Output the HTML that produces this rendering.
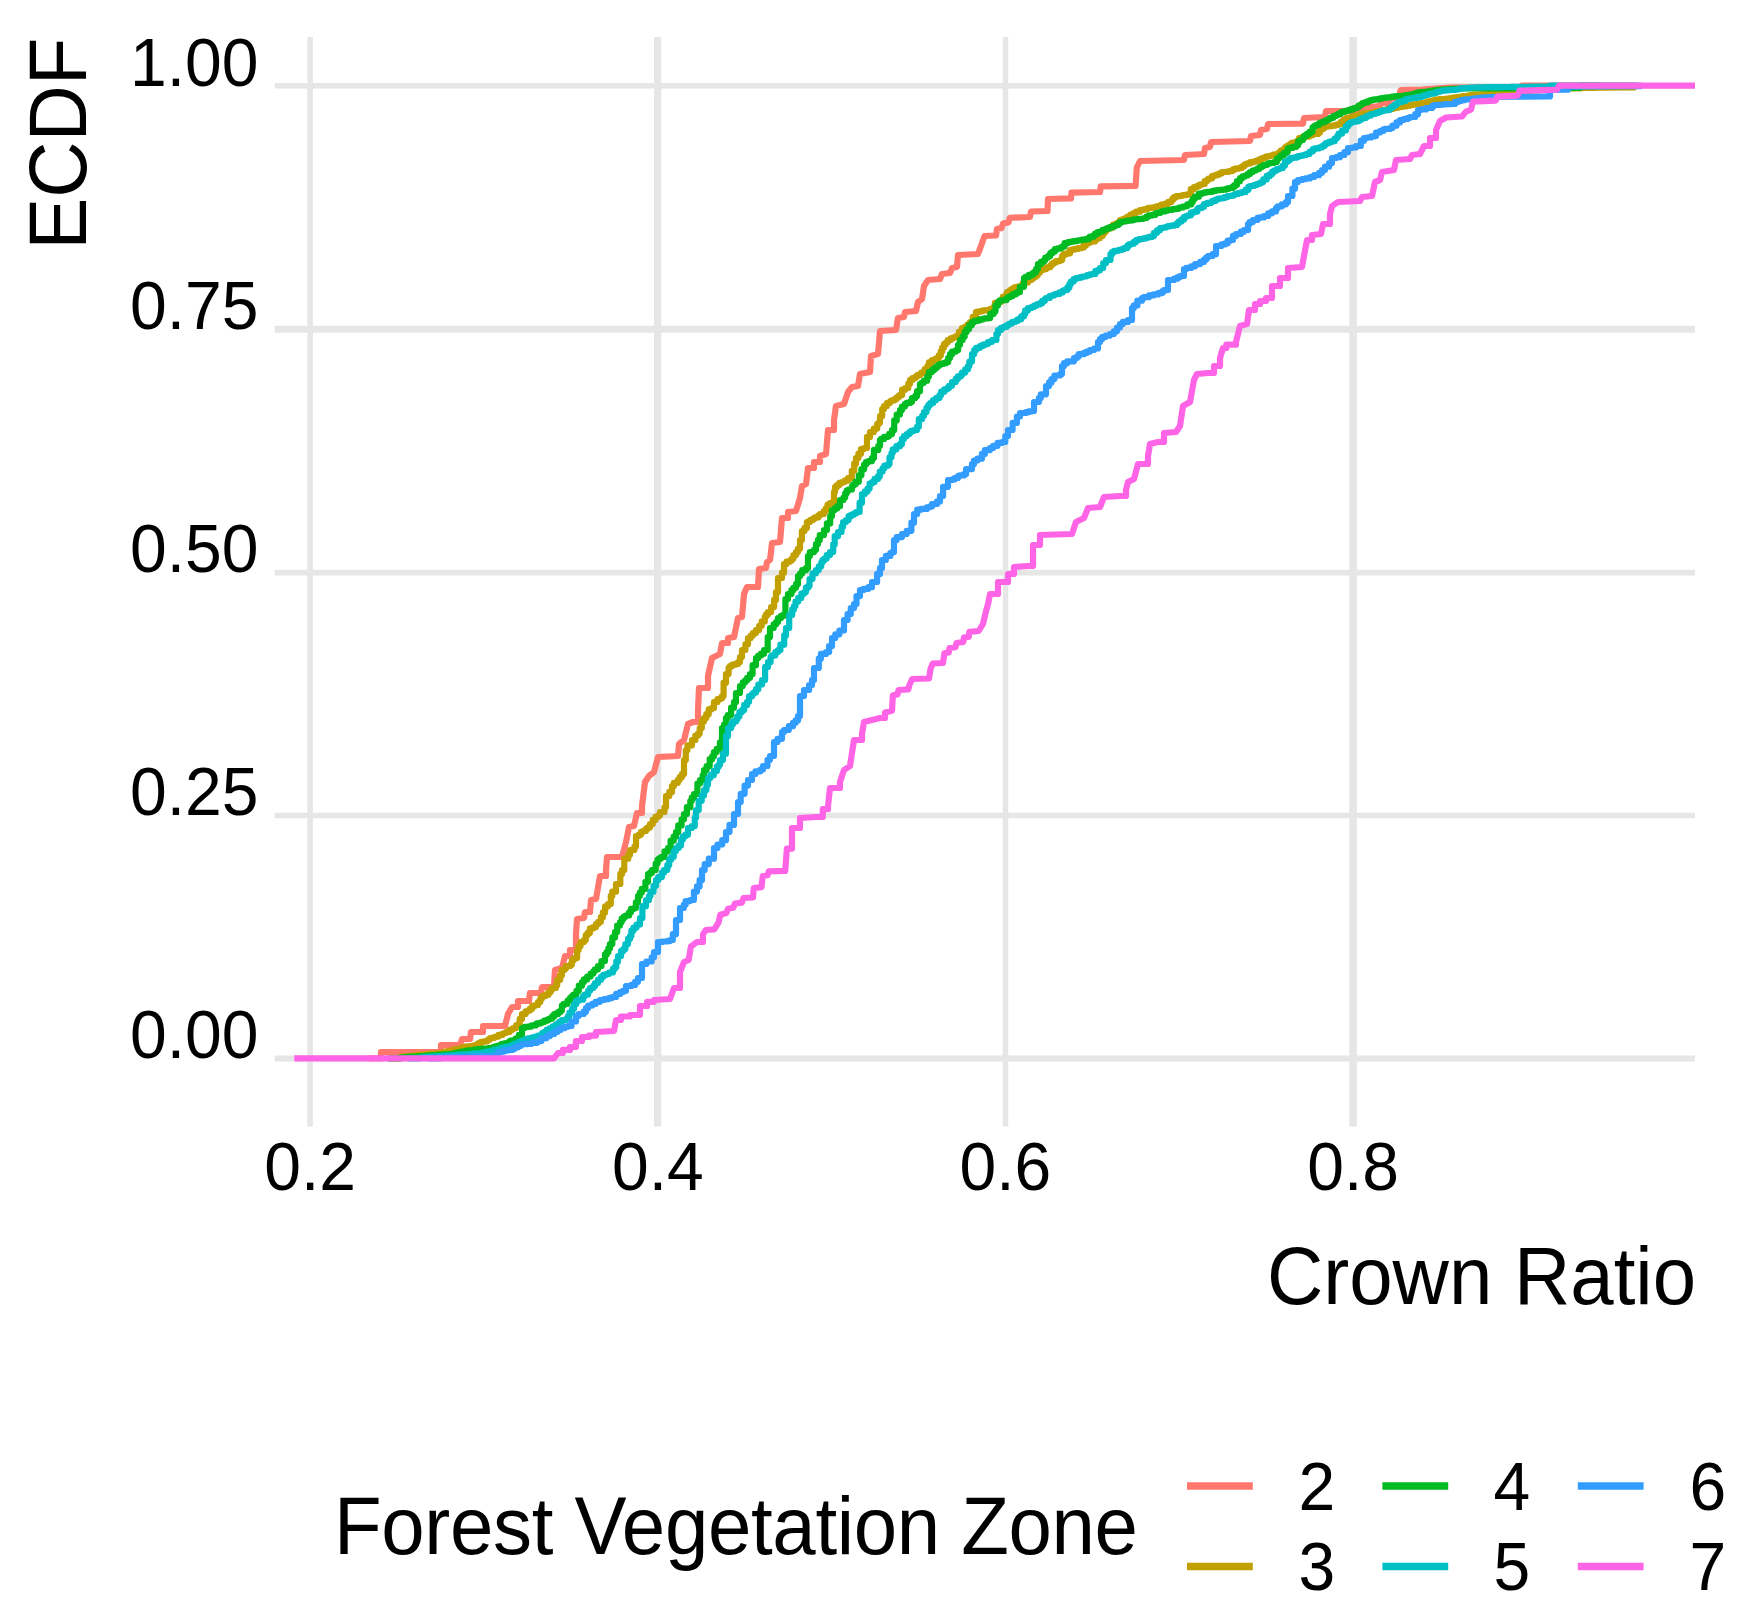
<!DOCTYPE html>
<html><head><meta charset="utf-8"><title>ECDF of Crown Ratio by Forest Vegetation Zone</title>
<style>html,body{margin:0;padding:0;background:#fff}svg{display:block}text{font-family:"Liberation Sans",Arial,Helvetica,sans-serif;fill:#000}</style></head><body>
<svg width="1748" height="1621" viewBox="0 0 1748 1621">
<rect width="1748" height="1621" fill="#fff"/>
<g stroke="#E6E6E6" stroke-width="5.6" fill="none">
<line x1="274.6" x2="1695.0" y1="85.7" y2="85.7" stroke-width="5.4"/>
<line x1="274.6" x2="1695.0" y1="329.3" y2="329.3" stroke-width="7.0"/>
<line x1="274.6" x2="1695.0" y1="572.6" y2="572.6" stroke-width="5.7"/>
<line x1="274.6" x2="1695.0" y1="815.6" y2="815.6" stroke-width="5.5"/>
<line x1="274.6" x2="1695.0" y1="1058.4" y2="1058.4" stroke-width="6.0"/>
<line x1="310.1" x2="310.1" y1="37.0" y2="1126.4" stroke-width="5.6"/>
<line x1="657.6" x2="657.6" y1="37.0" y2="1126.4" stroke-width="7.2"/>
<line x1="1005.5" x2="1005.5" y1="37.0" y2="1126.4" stroke-width="5.4"/>
<line x1="1353.1" x2="1353.1" y1="37.0" y2="1126.4" stroke-width="7.6"/>
</g>
<g fill="none" stroke-width="6.2" stroke-linejoin="round" stroke-linecap="butt">
<path stroke="#FF776D" d="M369.0 1058.4 L381.0 1058.4 L381.0 1058.0 L381.0 1052.0 L441.0 1052.0 L441.0 1045.0 L460.0 1045.0 L462.0 1039.0 L470.0 1039.0 L471.0 1032.0 L483.0 1032.0 L483.0 1026.0 L505.0 1026.0 L508.0 1014.0 L512.0 1007.0 L518.0 1007.0 L518.0 1001.0 L529.0 1001.0 L530.0 993.0 L541.0 993.0 L542.0 987.0 L554.0 987.0 L555.0 970.0 L562.0 968.0 L565.0 956.0 L570.0 956.0 L570.0 950.0 L576.0 950.0 L576.0 934.0 L577.0 919.0 L584.0 918.0 L585.0 912.0 L590.0 912.0 L591.0 900.0 L596.0 899.0 L600.0 876.0 L606.0 876.0 L606.0 870.0 L607.0 857.0 L622.0 857.0 L626.0 842.0 L629.0 827.0 L634.0 826.0 L637.0 813.0 L642.0 813.0 L642.0 806.0 L645.0 782.0 L649.0 776.0 L654.0 772.0 L658.0 757.0 L678.0 756.0 L679.0 744.0 L684.0 740.0 L688.0 724.0 L693.0 722.0 L698.0 722.0 L698.0 710.0 L699.0 688.0 L708.0 688.0 L708.0 676.0 L712.0 658.0 L720.0 654.0 L722.0 643.0 L728.0 643.0 L728.0 638.0 L734.0 637.0 L738.0 618.0 L742.0 617.0 L744.0 594.0 L747.0 587.0 L758.0 587.0 L759.0 569.0 L766.0 568.0 L767.0 562.0 L770.0 560.0 L772.0 543.0 L780.0 542.0 L782.0 518.0 L788.0 518.0 L788.0 512.0 L796.0 511.0 L800.0 498.0 L802.0 486.0 L806.0 484.0 L808.0 468.0 L814.0 468.0 L814.0 462.0 L820.0 462.0 L820.0 456.0 L826.0 454.0 L828.0 430.0 L834.0 430.0 L834.0 420.0 L836.0 406.0 L844.0 404.0 L848.0 392.0 L852.0 387.0 L858.0 386.0 L860.0 374.0 L870.0 372.0 L871.0 356.0 L878.0 354.0 L880.0 331.0 L896.0 330.0 L898.0 318.0 L904.0 317.0 L905.0 312.0 L916.0 311.0 L918.0 302.0 L922.0 299.0 L924.0 286.0 L928.0 280.0 L940.0 279.0 L942.0 274.0 L950.0 273.0 L952.0 268.0 L957.0 267.0 L958.0 255.0 L978.0 254.0 L980.0 248.7 L984.6 236.0 L996.0 235.5 L997.0 229.0 L1001.7 228.0 L1003.0 223.5 L1008.6 222.4 L1009.7 217.8 L1030.0 217.0 L1031.0 211.5 L1047.5 211.0 L1048.0 199.0 L1071.0 198.4 L1071.5 192.6 L1100.0 192.0 L1100.7 186.3 L1135.6 185.8 L1136.8 167.5 L1140.0 161.0 L1184.0 160.0 L1185.0 155.0 L1204.0 154.0 L1205.0 148.0 L1210.0 147.0 L1211.0 142.0 L1250.0 141.0 L1251.0 136.0 L1260.0 135.0 L1261.0 130.0 L1267.0 129.0 L1268.0 124.0 L1303.0 123.6 L1304.0 118.0 L1325.0 117.0 L1326.0 111.0 L1358.0 111.0 L1370.0 107.0 L1380.0 106.0 L1381.0 103.0 L1390.0 103.0 L1390.0 98.0 L1400.0 98.0 L1400.0 92.0 L1401.0 90.0 L1422.0 89.6 L1450.0 87.5 L1522.0 87.0 L1522.0 85.7 L1600.0 85.7"/>
<path stroke="#C1A000" d="M388.0 1058.4 L400.0 1058.4 L400.0 1057.0 L401.1 1057.0 L401.1 1056.6 L404.6 1056.6 L404.6 1056.5 L407.9 1056.5 L407.9 1056.1 L411.0 1056.1 L411.0 1055.8 L412.5 1055.8 L412.5 1055.7 L413.9 1055.7 L413.9 1055.4 L416.0 1055.4 L416.0 1055.1 L419.4 1055.1 L419.4 1054.7 L421.9 1054.7 L421.9 1054.6 L424.9 1054.6 L424.9 1054.5 L426.6 1054.5 L426.6 1054.1 L429.0 1054.1 L429.0 1053.7 L431.9 1053.7 L431.9 1053.6 L435.2 1053.6 L435.2 1053.4 L438.3 1053.4 L438.3 1053.1 L440.0 1053.1 L440.0 1053.0 L441.9 1053.0 L441.9 1052.8 L443.0 1052.8 L443.0 1052.0 L445.9 1052.0 L445.9 1051.6 L447.1 1051.6 L447.1 1050.8 L450.7 1050.8 L450.7 1050.3 L454.0 1050.3 L454.0 1049.3 L457.1 1049.3 L457.1 1048.9 L460.1 1048.9 L460.1 1048.1 L462.0 1048.1 L462.0 1047.3 L464.8 1047.3 L464.8 1046.6 L467.7 1046.6 L467.7 1046.3 L470.0 1046.3 L470.0 1046.0 L474.6 1046.0 L474.6 1045.0 L476.7 1045.0 L476.7 1044.4 L478.6 1044.4 L478.6 1043.2 L481.0 1043.2 L481.0 1041.8 L484.1 1041.8 L484.1 1041.4 L487.2 1041.4 L487.2 1040.3 L488.6 1040.3 L488.6 1039.4 L490.0 1039.4 L490.0 1038.0 L494.1 1038.0 L494.1 1037.0 L496.6 1037.0 L496.6 1036.4 L498.6 1036.4 L498.6 1034.9 L502.5 1034.9 L502.5 1033.8 L503.8 1033.8 L503.8 1033.0 L506.0 1033.0 L506.0 1032.0 L509.5 1032.0 L509.5 1029.9 L511.8 1029.9 L511.8 1028.9 L513.3 1028.9 L513.3 1028.1 L516.1 1028.1 L516.1 1025.3 L518.0 1025.3 L518.0 1024.0 L519.7 1024.0 L519.7 1018.9 L522.0 1018.9 L522.0 1014.0 L525.6 1014.0 L525.6 1011.4 L527.6 1011.4 L527.6 1010.5 L530.0 1010.5 L530.0 1008.7 L532.3 1008.7 L532.3 1005.8 L535.1 1005.8 L535.1 1005.0 L538.0 1005.0 L538.0 1002.0 L540.3 1002.0 L540.3 998.5 L542.0 998.5 L542.0 996.0 L545.6 996.0 L545.6 994.7 L548.5 994.7 L548.5 992.0 L550.6 992.0 L550.6 990.0 L552.0 990.0 L552.0 988.0 L555.9 988.0 L555.9 985.2 L557.2 985.2 L557.2 979.8 L560.2 979.8 L560.2 975.2 L561.9 975.2 L561.9 969.9 L564.3 969.9 L564.3 968.5 L566.0 968.5 L566.0 966.0 L570.3 966.0 L570.3 964.7 L571.9 964.7 L571.9 960.0 L574.0 960.0 L574.0 958.0 L577.1 958.0 L577.1 950.3 L578.6 950.3 L578.6 946.0 L580.6 946.0 L580.6 942.0 L584.0 942.0 L584.0 940.0 L585.8 940.0 L585.8 935.0 L587.7 935.0 L587.7 932.9 L589.9 932.9 L589.9 928.4 L593.3 928.4 L593.3 927.1 L596.0 927.1 L596.0 924.0 L598.3 924.0 L598.3 921.8 L600.9 921.8 L600.9 917.2 L602.9 917.2 L602.9 912.4 L605.1 912.4 L605.1 906.3 L608.0 906.3 L608.0 904.0 L610.8 904.0 L610.8 895.9 L612.3 895.9 L612.3 891.7 L616.0 891.7 L616.0 884.0 L620.3 884.0 L620.3 873.9 L622.0 873.9 L622.0 870.0 L624.3 870.0 L624.3 858.7 L628.3 858.7 L628.3 854.7 L630.0 854.7 L630.0 850.0 L634.4 850.0 L634.4 846.5 L636.0 846.5 L636.0 836.0 L638.6 836.0 L638.6 834.8 L640.9 834.8 L640.9 832.0 L642.7 832.0 L642.7 831.0 L646.0 831.0 L646.0 828.7 L647.7 828.7 L647.7 827.4 L650.0 827.4 L650.0 824.0 L652.8 824.0 L652.8 819.9 L655.5 819.9 L655.5 816.8 L658.1 816.8 L658.1 815.4 L660.0 815.4 L660.0 812.0 L664.5 812.0 L664.5 807.3 L666.0 807.3 L666.0 796.0 L669.3 796.0 L669.3 791.9 L672.0 791.9 L672.0 786.0 L673.9 786.0 L673.9 782.8 L677.9 782.8 L677.9 779.8 L679.7 779.8 L679.7 777.0 L682.0 777.0 L682.0 774.0 L684.0 774.0 L684.0 760.0 L685.8 760.0 L685.8 750.3 L687.4 750.3 L687.4 745.3 L692.0 745.3 L692.0 740.0 L695.4 740.0 L695.4 735.6 L698.1 735.6 L698.1 733.4 L699.7 733.4 L699.7 728.1 L701.8 728.1 L701.8 721.4 L704.0 721.4 L704.0 718.0 L706.3 718.0 L706.3 714.2 L708.7 714.2 L708.7 709.3 L711.6 709.3 L711.6 708.0 L714.0 708.0 L714.0 702.0 L717.5 702.0 L717.5 699.0 L720.4 699.0 L720.4 698.2 L722.0 698.2 L722.0 696.0 L723.6 696.0 L723.6 682.7 L726.0 682.7 L726.0 674.0 L728.6 674.0 L728.6 667.8 L730.0 667.8 L730.0 666.0 L732.3 666.0 L732.3 664.7 L735.2 664.7 L735.2 663.9 L738.0 663.9 L738.0 662.0 L740.0 662.0 L740.0 657.1 L742.0 657.1 L742.0 650.0 L745.4 650.0 L745.4 644.3 L748.0 644.3 L748.0 638.0 L750.7 638.0 L750.7 635.6 L752.9 635.6 L752.9 633.0 L756.0 633.0 L756.0 630.0 L759.2 630.0 L759.2 625.8 L761.7 625.8 L761.7 621.4 L764.8 621.4 L764.8 616.6 L766.1 616.6 L766.1 614.4 L768.0 614.4 L768.0 612.0 L771.1 612.0 L771.1 607.0 L774.1 607.0 L774.1 599.9 L776.0 599.9 L776.0 592.0 L778.0 592.0 L778.0 578.0 L782.0 578.0 L782.0 572.7 L784.0 572.7 L784.0 564.0 L786.6 564.0 L786.6 561.7 L789.8 561.7 L789.8 560.6 L791.8 560.6 L791.8 558.5 L793.5 558.5 L793.5 555.0 L796.0 555.0 L796.0 552.0 L797.9 552.0 L797.9 548.8 L800.0 548.8 L800.0 540.0 L801.9 540.0 L801.9 531.0 L804.5 531.0 L804.5 527.9 L806.9 527.9 L806.9 522.0 L810.0 522.0 L810.0 520.0 L813.0 520.0 L813.0 518.7 L814.7 518.7 L814.7 517.4 L818.3 517.4 L818.3 515.5 L820.0 515.5 L820.0 514.0 L823.8 514.0 L823.8 511.1 L826.0 511.1 L826.0 508.0 L827.5 508.0 L827.5 504.8 L829.3 504.8 L829.3 503.7 L830.7 503.7 L830.7 502.8 L834.0 502.8 L834.0 500.0 L834.0 492.0 L835.0 492.0 L835.0 487.2 L836.9 487.2 L836.9 485.1 L839.4 485.1 L839.4 482.9 L842.0 482.9 L842.0 482.0 L844.6 482.0 L844.6 480.6 L848.0 480.6 L848.0 478.0 L851.8 478.0 L851.8 470.8 L854.2 470.8 L854.2 463.7 L856.0 463.7 L856.0 458.0 L858.4 458.0 L858.4 453.7 L861.0 453.7 L861.0 449.1 L864.0 449.1 L864.0 448.0 L867.0 448.0 L867.0 436.9 L870.0 436.9 L870.0 432.0 L873.8 432.0 L873.8 428.6 L877.2 428.6 L877.2 424.1 L878.8 424.1 L878.8 422.7 L880.0 422.7 L880.0 416.0 L882.2 416.0 L882.2 409.1 L884.0 409.1 L884.0 406.0 L886.9 406.0 L886.9 403.0 L889.9 403.0 L889.9 401.6 L891.0 401.6 L891.0 400.5 L894.1 400.5 L894.1 399.4 L896.0 399.4 L896.0 398.0 L897.5 398.0 L897.5 396.8 L899.3 396.8 L899.3 395.1 L902.1 395.1 L902.1 389.7 L905.2 389.7 L905.2 388.0 L908.3 388.0 L908.3 383.7 L910.0 383.7 L910.0 380.0 L912.4 380.0 L912.4 378.1 L915.7 378.1 L915.7 376.6 L917.3 376.6 L917.3 375.1 L920.0 375.1 L920.0 374.0 L921.3 374.0 L921.3 372.5 L924.7 372.5 L924.7 369.2 L927.4 369.2 L927.4 366.2 L928.9 366.2 L928.9 362.4 L932.0 362.4 L932.0 360.0 L935.6 360.0 L935.6 358.6 L938.6 358.6 L938.6 355.6 L940.8 355.6 L940.8 351.4 L942.2 351.4 L942.2 347.5 L944.0 347.5 L944.0 344.0 L946.1 344.0 L946.1 342.3 L947.7 342.3 L947.7 340.1 L950.7 340.1 L950.7 338.3 L953.4 338.3 L953.4 337.3 L956.0 337.3 L956.0 336.0 L959.0 336.0 L959.0 331.6 L962.0 331.6 L962.0 328.0 L964.9 328.0 L964.9 326.9 L967.4 326.9 L967.4 324.7 L970.0 324.7 L970.0 322.0 L972.7 322.0 L972.7 316.8 L976.0 316.8 L976.0 312.0 L977.1 312.0 L977.1 311.7 L980.2 311.7 L980.2 311.1 L983.0 311.1 L983.0 310.3 L985.8 310.3 L985.8 310.1 L988.6 310.1 L988.6 309.9 L990.0 309.9 L990.0 309.0 L993.3 309.0 L993.3 307.0 L994.9 307.0 L994.9 302.9 L998.0 302.9 L998.0 302.0 L1000.9 302.0 L1000.9 300.3 L1002.7 300.3 L1002.7 296.8 L1005.7 296.8 L1005.7 295.2 L1007.0 295.2 L1007.0 292.0 L1010.0 292.0 L1010.0 290.0 L1012.0 290.0 L1012.0 288.9 L1014.3 288.9 L1014.3 287.4 L1017.2 287.4 L1017.2 286.5 L1020.0 286.5 L1020.0 286.0 L1022.7 286.0 L1022.7 283.4 L1024.6 283.4 L1024.6 282.4 L1028.0 282.4 L1028.0 280.0 L1031.1 280.0 L1031.1 278.7 L1033.1 278.7 L1033.1 276.8 L1035.9 276.8 L1035.9 275.3 L1037.7 275.3 L1037.7 272.5 L1040.0 272.5 L1040.0 270.0 L1043.0 270.0 L1043.0 269.1 L1046.3 269.1 L1046.3 267.6 L1048.3 267.6 L1048.3 267.1 L1050.4 267.1 L1050.4 265.3 L1051.8 265.3 L1051.8 263.8 L1053.5 263.8 L1053.5 262.5 L1055.9 262.5 L1055.9 261.1 L1060.0 261.1 L1060.0 260.0 L1062.1 260.0 L1062.1 256.1 L1063.6 256.1 L1063.6 254.2 L1066.5 254.2 L1066.5 253.4 L1070.0 253.4 L1070.0 250.0 L1072.4 250.0 L1072.4 249.4 L1075.0 249.4 L1075.0 248.9 L1077.9 248.9 L1077.9 248.2 L1081.2 248.2 L1081.2 247.5 L1083.7 247.5 L1083.7 245.4 L1086.0 245.4 L1086.0 244.0 L1087.2 244.0 L1087.2 243.0 L1089.3 243.0 L1089.3 241.9 L1091.6 241.9 L1091.6 241.4 L1095.0 241.4 L1095.0 239.3 L1097.3 239.3 L1097.3 237.9 L1100.0 237.9 L1100.0 236.0 L1102.6 236.0 L1102.6 233.7 L1104.0 233.7 L1104.0 231.8 L1105.8 231.8 L1105.8 229.6 L1107.8 229.6 L1107.8 228.2 L1111.0 228.2 L1111.0 227.4 L1113.0 227.4 L1113.0 224.7 L1116.7 224.7 L1116.7 223.0 L1120.0 223.0 L1120.0 220.0 L1122.9 220.0 L1122.9 219.1 L1125.4 219.1 L1125.4 218.2 L1127.5 218.2 L1127.5 216.5 L1130.3 216.5 L1130.3 214.5 L1132.0 214.5 L1132.0 214.0 L1133.5 214.0 L1133.5 213.1 L1136.2 213.1 L1136.2 211.7 L1140.0 211.7 L1140.0 210.0 L1143.4 210.0 L1143.4 209.4 L1146.7 209.4 L1146.7 208.5 L1148.4 208.5 L1148.4 207.9 L1151.5 207.9 L1151.5 207.6 L1154.8 207.6 L1154.8 206.8 L1156.6 206.8 L1156.6 206.4 L1158.0 206.4 L1158.0 206.0 L1161.2 206.0 L1161.2 204.7 L1164.4 204.7 L1164.4 203.9 L1167.9 203.9 L1167.9 202.1 L1171.3 202.1 L1171.3 200.6 L1172.3 200.6 L1172.3 198.9 L1174.0 198.9 L1174.0 197.0 L1176.5 197.0 L1176.5 196.2 L1179.6 196.2 L1179.6 195.8 L1181.6 195.8 L1181.6 195.5 L1182.8 195.5 L1182.8 195.2 L1184.9 195.2 L1184.9 194.8 L1188.0 194.8 L1188.0 194.0 L1190.8 194.0 L1190.8 189.2 L1194.0 189.2 L1194.0 187.0 L1197.3 187.0 L1197.3 185.8 L1199.6 185.8 L1199.6 184.6 L1202.0 184.6 L1202.0 184.0 L1204.7 184.0 L1204.7 181.0 L1207.1 181.0 L1207.1 179.8 L1208.5 179.8 L1208.5 178.5 L1212.0 178.5 L1212.0 176.0 L1214.2 176.0 L1214.2 175.4 L1216.5 175.4 L1216.5 174.6 L1219.3 174.6 L1219.3 173.3 L1222.0 173.3 L1222.0 172.0 L1225.5 172.0 L1225.5 171.8 L1228.8 171.8 L1228.8 171.2 L1231.8 171.2 L1231.8 170.4 L1233.0 170.4 L1233.0 169.4 L1235.1 169.4 L1235.1 168.7 L1238.2 168.7 L1238.2 168.2 L1240.0 168.2 L1240.0 168.0 L1241.8 168.0 L1241.8 166.5 L1244.0 166.5 L1244.0 165.0 L1245.4 165.0 L1245.4 164.0 L1247.5 164.0 L1247.5 163.4 L1250.3 163.4 L1250.3 162.2 L1253.7 162.2 L1253.7 161.7 L1255.7 161.7 L1255.7 160.9 L1259.2 160.9 L1259.2 159.4 L1262.0 159.4 L1262.0 158.0 L1265.1 158.0 L1265.1 157.1 L1266.5 157.1 L1266.5 156.3 L1269.6 156.3 L1269.6 155.8 L1271.6 155.8 L1271.6 155.5 L1273.0 155.5 L1273.0 154.7 L1276.0 154.7 L1276.0 154.0 L1278.5 154.0 L1278.5 152.8 L1280.6 152.8 L1280.6 150.6 L1283.2 150.6 L1283.2 149.4 L1285.3 149.4 L1285.3 147.1 L1287.5 147.1 L1287.5 145.6 L1290.0 145.6 L1290.0 144.0 L1291.7 144.0 L1291.7 142.8 L1294.7 142.8 L1294.7 142.0 L1297.4 142.0 L1297.4 140.8 L1299.1 140.8 L1299.1 138.1 L1302.0 138.1 L1302.0 137.0 L1304.9 137.0 L1304.9 136.7 L1308.6 136.7 L1308.6 136.2 L1309.7 136.2 L1309.7 135.2 L1312.6 135.2 L1312.6 134.3 L1314.0 134.3 L1314.0 134.0 L1318.3 134.0 L1318.3 132.4 L1320.0 132.4 L1320.0 129.0 L1323.3 129.0 L1323.3 127.8 L1324.7 127.8 L1324.7 126.7 L1327.2 126.7 L1327.2 126.3 L1329.4 126.3 L1329.4 126.1 L1332.2 126.1 L1332.2 125.6 L1335.5 125.6 L1335.5 124.9 L1338.0 124.9 L1338.0 124.0 L1340.9 124.0 L1340.9 121.9 L1343.5 121.9 L1343.5 119.6 L1346.0 119.6 L1346.0 118.0 L1348.2 118.0 L1348.2 117.6 L1350.8 117.6 L1350.8 117.0 L1353.4 117.0 L1353.4 116.2 L1355.8 116.2 L1355.8 115.5 L1358.0 115.5 L1358.0 115.0 L1360.4 115.0 L1360.4 114.2 L1364.1 114.2 L1364.1 113.4 L1366.2 113.4 L1366.2 113.2 L1370.2 113.2 L1370.2 112.9 L1371.5 112.9 L1371.5 112.7 L1374.0 112.7 L1374.0 112.0 L1375.9 112.0 L1375.9 111.3 L1379.1 111.3 L1379.1 110.8 L1381.7 110.8 L1381.7 110.5 L1383.7 110.5 L1383.7 110.0 L1386.7 110.0 L1386.7 109.2 L1390.0 109.2 L1390.0 109.0 L1392.7 109.0 L1392.7 108.4 L1394.0 108.4 L1394.0 107.8 L1397.7 107.8 L1397.7 107.2 L1399.5 107.2 L1399.5 107.0 L1402.2 107.0 L1402.2 106.5 L1403.7 106.5 L1403.7 106.3 L1406.5 106.3 L1406.5 105.7 L1410.0 105.7 L1410.0 105.0 L1413.3 105.0 L1413.3 104.4 L1416.2 104.4 L1416.2 104.1 L1419.6 104.1 L1419.6 103.7 L1421.0 103.7 L1421.0 103.2 L1424.7 103.2 L1424.7 102.6 L1426.1 102.6 L1426.1 102.0 L1428.0 102.0 L1428.0 101.3 L1430.0 101.3 L1430.0 101.0 L1431.6 101.0 L1431.6 100.7 L1433.3 100.7 L1433.3 100.3 L1435.1 100.3 L1435.1 99.7 L1439.1 99.7 L1439.1 99.2 L1440.8 99.2 L1440.8 99.1 L1444.8 99.1 L1444.8 99.0 L1446.2 99.0 L1446.2 98.6 L1450.0 98.6 L1450.0 98.0 L1452.5 98.0 L1452.5 97.7 L1454.4 97.7 L1454.4 97.4 L1457.0 97.4 L1457.0 97.2 L1460.5 97.2 L1460.5 96.7 L1462.3 96.7 L1462.3 96.2 L1463.8 96.2 L1463.8 96.0 L1467.6 96.0 L1467.6 95.5 L1470.0 95.5 L1470.0 95.0 L1472.3 95.0 L1472.3 94.9 L1476.1 94.9 L1476.1 94.7 L1477.5 94.7 L1477.5 94.6 L1480.9 94.6 L1480.9 94.4 L1484.4 94.4 L1484.4 94.2 L1486.2 94.2 L1486.2 94.1 L1488.1 94.1 L1488.1 94.1 L1490.0 94.1 L1490.0 94.0 L1493.5 94.0 L1493.5 93.7 L1494.8 93.7 L1494.8 93.5 L1497.6 93.5 L1497.6 93.4 L1499.7 93.4 L1499.7 93.1 L1501.8 93.1 L1501.8 92.8 L1504.0 92.8 L1504.0 92.4 L1506.9 92.4 L1506.9 92.2 L1508.6 92.2 L1508.6 92.0 L1510.3 92.0 L1510.3 91.8 L1514.0 91.8 L1514.0 91.5 L1516.9 91.5 L1516.9 91.3 L1518.2 91.3 L1518.2 91.2 L1521.5 91.2 L1521.5 91.0 L1525.5 91.0 L1525.5 90.9 L1528.2 90.9 L1528.2 90.8 L1530.0 90.8 L1530.0 90.6 L1532.2 90.6 L1532.2 90.4 L1534.0 90.4 L1534.0 90.4 L1537.9 90.4 L1537.9 90.2 L1541.4 90.2 L1541.4 90.0 L1543.5 90.0 L1543.5 89.9 L1545.7 89.9 L1545.7 89.8 L1547.4 89.8 L1547.4 89.7 L1550.0 89.7 L1550.0 89.5 L1553.6 89.5 L1553.6 89.4 L1556.2 89.4 L1556.2 89.3 L1558.0 89.3 L1558.0 89.1 L1559.5 89.1 L1559.5 88.8 L1563.5 88.8 L1563.5 88.6 L1566.0 88.6 L1566.0 88.5 L1569.2 88.5 L1569.2 88.5 L1572.0 88.5 L1572.0 88.4 L1574.5 88.4 L1574.5 88.3 L1577.9 88.3 L1577.9 88.3 L1580.1 88.3 L1580.1 88.2 L1582.1 88.2 L1582.1 88.1 L1583.3 88.1 L1583.3 88.0 L1586.2 88.0 L1586.2 88.0 L1588.9 88.0 L1588.9 87.9 L1592.4 87.9 L1592.4 87.9 L1593.5 87.9 L1593.5 87.8 L1595.7 87.8 L1595.7 87.7 L1597.9 87.7 L1597.9 87.6 L1600.0 87.6 L1600.0 87.6 L1634.0 87.4 L1634.0 85.7 L1600.0 85.7"/>
<path stroke="#00BB22" d="M388.0 1058.4 L400.0 1058.4 L400.0 1057.5 L402.6 1057.5 L402.6 1057.3 L405.3 1057.3 L405.3 1057.1 L406.5 1057.1 L406.5 1056.8 L409.9 1056.8 L409.9 1056.6 L413.1 1056.6 L413.1 1056.5 L416.1 1056.5 L416.1 1056.3 L419.1 1056.3 L419.1 1056.2 L421.3 1056.2 L421.3 1056.0 L424.7 1056.0 L424.7 1055.8 L426.1 1055.8 L426.1 1055.5 L429.0 1055.5 L429.0 1055.3 L432.4 1055.3 L432.4 1055.2 L433.6 1055.2 L433.6 1055.1 L436.2 1055.1 L436.2 1054.9 L439.7 1054.9 L439.7 1054.7 L441.1 1054.7 L441.1 1054.6 L443.5 1054.6 L443.5 1054.4 L446.8 1054.4 L446.8 1054.3 L448.5 1054.3 L448.5 1054.1 L450.0 1054.1 L450.0 1054.0 L452.9 1054.0 L452.9 1053.6 L454.6 1053.6 L454.6 1053.1 L456.7 1053.1 L456.7 1052.7 L459.1 1052.7 L459.1 1052.2 L461.1 1052.2 L461.1 1051.9 L463.1 1051.9 L463.1 1051.3 L465.3 1051.3 L465.3 1050.9 L468.0 1050.9 L468.0 1050.4 L472.1 1050.4 L472.1 1050.0 L473.9 1050.0 L473.9 1049.6 L475.7 1049.6 L475.7 1049.5 L477.0 1049.5 L477.0 1049.2 L481.0 1049.2 L481.0 1048.8 L484.6 1048.8 L484.6 1048.7 L488.3 1048.7 L488.3 1048.2 L490.0 1048.2 L490.0 1048.0 L493.0 1048.0 L493.0 1047.2 L495.2 1047.2 L495.2 1046.4 L498.1 1046.4 L498.1 1045.6 L499.9 1045.6 L499.9 1045.1 L501.4 1045.1 L501.4 1044.1 L504.3 1044.1 L504.3 1043.3 L507.6 1043.3 L507.6 1042.5 L509.3 1042.5 L509.3 1041.6 L510.5 1041.6 L510.5 1040.6 L514.0 1040.6 L514.0 1040.0 L515.6 1040.0 L515.6 1038.5 L518.9 1038.5 L518.9 1034.9 L522.0 1034.9 L522.0 1028.0 L524.7 1028.0 L524.7 1026.9 L528.2 1026.9 L528.2 1026.6 L531.2 1026.6 L531.2 1025.7 L532.7 1025.7 L532.7 1025.4 L535.7 1025.4 L535.7 1024.4 L536.8 1024.4 L536.8 1023.4 L540.2 1023.4 L540.2 1022.7 L542.0 1022.7 L542.0 1022.0 L544.3 1022.0 L544.3 1020.7 L547.2 1020.7 L547.2 1019.6 L549.2 1019.6 L549.2 1018.6 L552.2 1018.6 L552.2 1016.4 L554.2 1016.4 L554.2 1014.2 L558.0 1014.2 L558.0 1012.0 L560.4 1012.0 L560.4 1010.5 L561.9 1010.5 L561.9 1005.6 L563.7 1005.6 L563.7 1003.8 L567.6 1003.8 L567.6 1000.6 L570.0 1000.6 L570.0 998.0 L571.4 998.0 L571.4 996.6 L573.4 996.6 L573.4 994.7 L576.4 994.7 L576.4 990.8 L578.8 990.8 L578.8 985.7 L582.0 985.7 L582.0 982.0 L583.9 982.0 L583.9 979.4 L587.2 979.4 L587.2 976.5 L590.6 976.5 L590.6 973.5 L593.4 973.5 L593.4 971.1 L594.9 971.1 L594.9 969.3 L598.0 969.3 L598.0 966.0 L601.5 966.0 L601.5 961.0 L605.0 961.0 L605.0 954.4 L606.8 954.4 L606.8 951.9 L608.4 951.9 L608.4 948.2 L610.0 948.2 L610.0 944.0 L612.3 944.0 L612.3 937.4 L615.0 937.4 L615.0 932.0 L617.2 932.0 L617.2 925.5 L620.0 925.5 L620.0 922.0 L621.7 922.0 L621.7 918.7 L623.6 918.7 L623.6 916.8 L625.5 916.8 L625.5 915.5 L629.1 915.5 L629.1 912.3 L631.0 912.3 L631.0 908.8 L634.0 908.8 L634.0 908.0 L635.9 908.0 L635.9 902.3 L638.0 902.3 L638.0 896.0 L639.8 896.0 L639.8 892.6 L641.8 892.6 L641.8 888.9 L645.4 888.9 L645.4 881.8 L648.0 881.8 L648.0 874.0 L650.1 874.0 L650.1 872.7 L652.0 872.7 L652.0 870.0 L655.7 870.0 L655.7 863.5 L657.4 863.5 L657.4 859.9 L658.9 859.9 L658.9 858.5 L661.0 858.5 L661.0 857.0 L664.5 857.0 L664.5 851.3 L668.0 851.3 L668.0 848.0 L670.6 848.0 L670.6 840.7 L673.7 840.7 L673.7 836.6 L676.0 836.6 L676.0 832.0 L678.2 832.0 L678.2 825.4 L681.6 825.4 L681.6 819.3 L684.0 819.3 L684.0 814.0 L686.9 814.0 L686.9 807.2 L690.3 807.2 L690.3 801.0 L691.7 801.0 L691.7 797.7 L694.0 797.7 L694.0 794.0 L697.4 794.0 L697.4 783.6 L700.0 783.6 L700.0 780.0 L702.7 780.0 L702.7 775.3 L704.0 775.3 L704.0 770.0 L706.6 770.0 L706.6 766.1 L709.7 766.1 L709.7 759.2 L712.2 759.2 L712.2 756.3 L714.0 756.3 L714.0 752.0 L716.7 752.0 L716.7 748.9 L719.9 748.9 L719.9 742.3 L722.0 742.3 L722.0 728.0 L724.1 728.0 L724.1 724.5 L726.0 724.5 L726.0 718.0 L727.8 718.0 L727.8 715.1 L731.1 715.1 L731.1 707.7 L734.0 707.7 L734.0 702.0 L736.0 702.0 L736.0 693.0 L740.0 693.0 L740.0 686.0 L742.8 686.0 L742.8 682.3 L745.2 682.3 L745.2 680.3 L747.2 680.3 L747.2 677.8 L750.0 677.8 L750.0 674.0 L752.6 674.0 L752.6 665.2 L756.0 665.2 L756.0 658.0 L758.3 658.0 L758.3 655.6 L761.0 655.6 L761.0 653.7 L764.0 653.7 L764.0 650.0 L767.7 650.0 L767.7 637.1 L770.0 637.1 L770.0 628.0 L773.7 628.0 L773.7 624.3 L776.1 624.3 L776.1 622.0 L778.0 622.0 L778.0 618.0 L781.0 618.0 L781.0 615.8 L784.0 615.8 L784.0 614.0 L785.4 614.0 L785.4 599.0 L788.0 599.0 L788.0 594.0 L791.4 594.0 L791.4 590.2 L793.3 590.2 L793.3 587.8 L796.0 587.8 L796.0 584.0 L798.0 584.0 L798.0 576.0 L800.1 576.0 L800.1 573.5 L802.2 573.5 L802.2 570.2 L806.0 570.2 L806.0 568.0 L808.0 568.0 L808.0 556.0 L809.9 556.0 L809.9 552.1 L814.1 552.1 L814.1 549.8 L816.0 549.8 L816.0 544.0 L818.0 544.0 L818.0 539.9 L819.8 539.9 L819.8 535.1 L824.0 535.1 L824.0 530.0 L826.9 530.0 L826.9 523.4 L830.2 523.4 L830.2 516.0 L832.0 516.0 L832.0 510.0 L834.6 510.0 L834.6 508.4 L837.2 508.4 L837.2 506.2 L840.0 506.2 L840.0 500.0 L843.5 500.0 L843.5 497.6 L845.2 497.6 L845.2 493.3 L846.7 493.3 L846.7 490.7 L848.4 490.7 L848.4 489.5 L852.0 489.5 L852.0 486.0 L853.2 486.0 L853.2 484.3 L855.7 484.3 L855.7 481.7 L858.8 481.7 L858.8 475.3 L861.4 475.3 L861.4 469.2 L864.1 469.2 L864.1 464.5 L866.0 464.5 L866.0 462.0 L868.5 462.0 L868.5 461.1 L872.0 461.1 L872.0 458.0 L873.9 458.0 L873.9 449.9 L878.3 449.9 L878.3 445.8 L880.0 445.8 L880.0 440.0 L881.2 440.0 L881.2 438.9 L884.2 438.9 L884.2 436.8 L888.0 436.8 L888.0 436.0 L889.2 436.0 L889.2 433.9 L892.0 433.9 L892.0 430.0 L894.2 430.0 L894.2 420.4 L896.7 420.4 L896.7 414.5 L900.0 414.5 L900.0 410.0 L902.0 410.0 L902.0 406.5 L904.9 406.5 L904.9 404.0 L906.7 404.0 L906.7 402.9 L910.3 402.9 L910.3 401.7 L912.0 401.7 L912.0 398.0 L915.3 398.0 L915.3 395.9 L917.1 395.9 L917.1 391.2 L920.0 391.2 L920.0 384.0 L921.5 384.0 L921.5 382.8 L923.8 382.8 L923.8 380.7 L927.2 380.7 L927.2 376.6 L928.9 376.6 L928.9 372.1 L932.0 372.1 L932.0 370.0 L934.2 370.0 L934.2 368.2 L936.3 368.2 L936.3 366.8 L937.9 366.8 L937.9 365.3 L939.9 365.3 L939.9 364.0 L943.3 364.0 L943.3 363.2 L946.0 363.2 L946.0 362.0 L948.2 362.0 L948.2 358.1 L950.0 358.1 L950.0 354.2 L952.1 354.2 L952.1 351.6 L956.0 351.6 L956.0 350.0 L958.1 350.0 L958.1 344.8 L960.0 344.8 L960.0 340.0 L962.6 340.0 L962.6 336.5 L964.7 336.5 L964.7 332.1 L966.6 332.1 L966.6 329.1 L969.1 329.1 L969.1 325.1 L972.0 325.1 L972.0 322.0 L974.4 322.0 L974.4 320.9 L977.5 320.9 L977.5 320.4 L979.7 320.4 L979.7 319.4 L982.8 319.4 L982.8 318.8 L984.5 318.8 L984.5 318.4 L988.0 318.4 L988.0 318.0 L990.2 318.0 L990.2 313.8 L993.8 313.8 L993.8 311.3 L995.5 311.3 L995.5 305.4 L998.0 305.4 L998.0 302.0 L999.4 302.0 L999.4 300.5 L1003.1 300.5 L1003.1 300.1 L1006.6 300.1 L1006.6 298.3 L1007.9 298.3 L1007.9 297.0 L1010.5 297.0 L1010.5 296.0 L1012.7 296.0 L1012.7 294.4 L1015.8 294.4 L1015.8 292.8 L1018.0 292.8 L1018.0 292.0 L1019.9 292.0 L1019.9 286.8 L1024.0 286.8 L1024.0 278.0 L1025.5 278.0 L1025.5 276.9 L1028.9 276.9 L1028.9 274.9 L1032.3 274.9 L1032.3 273.7 L1034.0 273.7 L1034.0 272.0 L1036.2 272.0 L1036.2 268.8 L1038.0 268.8 L1038.0 264.0 L1041.0 264.0 L1041.0 261.8 L1044.0 261.8 L1044.0 260.1 L1045.3 260.1 L1045.3 257.6 L1048.0 257.6 L1048.0 256.0 L1050.3 256.0 L1050.3 253.2 L1052.4 253.2 L1052.4 251.6 L1054.9 251.6 L1054.9 249.2 L1057.7 249.2 L1057.7 248.3 L1061.3 248.3 L1061.3 247.2 L1062.7 247.2 L1062.7 246.4 L1064.6 246.4 L1064.6 243.1 L1068.0 243.1 L1068.0 242.0 L1070.7 242.0 L1070.7 241.7 L1073.2 241.7 L1073.2 241.1 L1076.9 241.1 L1076.9 240.6 L1078.6 240.6 L1078.6 240.4 L1080.0 240.4 L1080.0 240.0 L1082.0 240.0 L1082.0 239.7 L1085.4 239.7 L1085.4 239.2 L1088.7 239.2 L1088.7 237.9 L1089.9 237.9 L1089.9 236.7 L1093.6 236.7 L1093.6 235.3 L1095.1 235.3 L1095.1 233.7 L1097.5 233.7 L1097.5 232.2 L1100.0 232.2 L1100.0 231.5 L1102.6 231.5 L1102.6 229.9 L1105.2 229.9 L1105.2 229.1 L1106.8 229.1 L1106.8 228.4 L1109.7 228.4 L1109.7 227.2 L1112.9 227.2 L1112.9 226.0 L1115.4 226.0 L1115.4 225.0 L1118.3 225.0 L1118.3 223.4 L1120.0 223.4 L1120.0 222.0 L1122.3 222.0 L1122.3 221.5 L1125.6 221.5 L1125.6 221.0 L1127.6 221.0 L1127.6 220.7 L1129.6 220.7 L1129.6 220.3 L1133.1 220.3 L1133.1 219.7 L1134.9 219.7 L1134.9 219.3 L1136.3 219.3 L1136.3 219.2 L1139.4 219.2 L1139.4 218.9 L1142.2 218.9 L1142.2 218.6 L1144.0 218.6 L1144.0 218.0 L1146.4 218.0 L1146.4 216.5 L1148.7 216.5 L1148.7 215.4 L1152.1 215.4 L1152.1 214.8 L1155.5 214.8 L1155.5 213.3 L1156.9 213.3 L1156.9 212.9 L1160.0 212.9 L1160.0 212.0 L1161.8 212.0 L1161.8 211.4 L1164.8 211.4 L1164.8 210.7 L1167.2 210.7 L1167.2 210.0 L1171.2 210.0 L1171.2 209.7 L1172.6 209.7 L1172.6 209.2 L1175.3 209.2 L1175.3 208.9 L1177.4 208.9 L1177.4 208.6 L1179.0 208.6 L1179.0 207.5 L1182.8 207.5 L1182.8 206.5 L1186.0 206.5 L1186.0 206.0 L1187.3 206.0 L1187.3 204.3 L1191.4 204.3 L1191.4 201.7 L1192.9 201.7 L1192.9 198.8 L1195.0 198.8 L1195.0 196.7 L1198.9 196.7 L1198.9 193.7 L1202.0 193.7 L1202.0 193.0 L1204.4 193.0 L1204.4 192.3 L1207.2 192.3 L1207.2 191.9 L1210.4 191.9 L1210.4 191.7 L1212.6 191.7 L1212.6 190.9 L1215.3 190.9 L1215.3 190.4 L1217.1 190.4 L1217.1 190.2 L1220.0 190.2 L1220.0 189.9 L1222.5 189.9 L1222.5 189.6 L1226.1 189.6 L1226.1 188.8 L1228.5 188.8 L1228.5 188.2 L1230.0 188.2 L1230.0 188.0 L1232.9 188.0 L1232.9 186.4 L1234.8 186.4 L1234.8 184.8 L1237.0 184.8 L1237.0 181.2 L1240.0 181.2 L1240.0 178.0 L1242.5 178.0 L1242.5 176.4 L1244.9 176.4 L1244.9 175.5 L1247.6 175.5 L1247.6 174.0 L1250.0 174.0 L1250.0 172.0 L1252.6 172.0 L1252.6 170.6 L1255.6 170.6 L1255.6 169.5 L1257.2 169.5 L1257.2 168.8 L1259.5 168.8 L1259.5 167.0 L1262.0 167.0 L1262.0 166.0 L1263.5 166.0 L1263.5 165.0 L1266.9 165.0 L1266.9 164.0 L1269.0 164.0 L1269.0 163.0 L1272.8 163.0 L1272.8 162.8 L1274.0 162.8 L1274.0 162.0 L1276.8 162.0 L1276.8 158.5 L1279.0 158.5 L1279.0 157.3 L1280.5 157.3 L1280.5 155.5 L1283.6 155.5 L1283.6 153.0 L1286.0 153.0 L1286.0 152.0 L1287.7 152.0 L1287.7 148.8 L1289.1 148.8 L1289.1 147.8 L1292.9 147.8 L1292.9 146.8 L1296.4 146.8 L1296.4 145.3 L1298.0 145.3 L1298.0 141.7 L1300.0 141.7 L1300.0 140.0 L1303.0 140.0 L1303.0 137.5 L1304.4 137.5 L1304.4 135.7 L1307.1 135.7 L1307.1 133.7 L1309.8 133.7 L1309.8 131.7 L1312.5 131.7 L1312.5 127.5 L1314.0 127.5 L1314.0 126.0 L1315.9 126.0 L1315.9 125.0 L1318.8 125.0 L1318.8 123.6 L1320.0 123.6 L1320.0 122.7 L1322.8 122.7 L1322.8 121.5 L1326.0 121.5 L1326.0 120.0 L1328.1 120.0 L1328.1 119.1 L1330.1 119.1 L1330.1 117.8 L1333.3 117.8 L1333.3 116.0 L1335.9 116.0 L1335.9 115.0 L1338.0 115.0 L1338.0 114.0 L1340.5 114.0 L1340.5 112.7 L1341.7 112.7 L1341.7 111.8 L1345.1 111.8 L1345.1 110.8 L1348.2 110.8 L1348.2 110.2 L1351.0 110.2 L1351.0 109.1 L1354.0 109.1 L1354.0 108.0 L1357.0 108.0 L1357.0 107.0 L1358.9 107.0 L1358.9 105.4 L1361.0 105.4 L1361.0 104.3 L1362.4 104.3 L1362.4 103.1 L1364.9 103.1 L1364.9 102.3 L1368.0 102.3 L1368.0 101.0 L1369.9 101.0 L1369.9 100.4 L1371.7 100.4 L1371.7 99.8 L1374.2 99.8 L1374.2 99.4 L1377.4 99.4 L1377.4 99.2 L1380.1 99.2 L1380.1 98.4 L1382.0 98.4 L1382.0 98.0 L1384.8 98.0 L1384.8 97.6 L1387.4 97.6 L1387.4 97.4 L1390.0 97.4 L1390.0 97.0 L1392.1 97.0 L1392.1 96.7 L1393.7 96.7 L1393.7 96.3 L1396.9 96.3 L1396.9 96.2 L1400.0 96.2 L1400.0 96.0 L1403.5 96.0 L1403.5 95.3 L1405.9 95.3 L1405.9 95.0 L1408.7 95.0 L1408.7 94.6 L1412.5 94.6 L1412.5 94.2 L1414.4 94.2 L1414.4 93.8 L1415.7 93.8 L1415.7 93.1 L1417.0 93.1 L1417.0 92.5 L1420.0 92.5 L1420.0 92.0 L1422.3 92.0 L1422.3 91.8 L1425.8 91.8 L1425.8 91.7 L1428.1 91.7 L1428.1 91.3 L1430.0 91.3 L1430.0 90.9 L1432.4 90.9 L1432.4 90.5 L1435.2 90.5 L1435.2 90.0 L1436.9 90.0 L1436.9 89.9 L1440.0 89.9 L1440.0 89.5 L1443.7 89.5 L1443.7 89.3 L1447.3 89.3 L1447.3 89.2 L1448.4 89.2 L1448.4 89.0 L1451.4 89.0 L1451.4 88.9 L1453.1 88.9 L1453.1 88.9 L1456.8 88.9 L1456.8 88.7 L1458.7 88.7 L1458.7 88.6 L1460.0 88.6 L1460.0 88.5 L1461.5 88.5 L1461.5 88.5 L1464.1 88.5 L1464.1 88.5 L1467.0 88.5 L1467.0 88.5 L1469.0 88.5 L1469.0 88.5 L1472.4 88.5 L1472.4 88.5 L1474.4 88.5 L1474.4 88.4 L1478.2 88.4 L1478.2 88.4 L1480.6 88.4 L1480.6 88.4 L1483.9 88.4 L1483.9 88.4 L1486.4 88.4 L1486.4 88.4 L1488.6 88.4 L1488.6 88.4 L1490.1 88.4 L1490.1 88.4 L1493.1 88.4 L1493.1 88.4 L1494.5 88.4 L1494.5 88.3 L1497.1 88.3 L1497.1 88.3 L1499.5 88.3 L1499.5 88.3 L1501.6 88.3 L1501.6 88.3 L1503.6 88.3 L1503.6 88.3 L1506.3 88.3 L1506.3 88.3 L1510.1 88.3 L1510.1 88.3 L1513.7 88.3 L1513.7 88.3 L1515.8 88.3 L1515.8 88.3 L1518.8 88.3 L1518.8 88.3 L1521.9 88.3 L1521.9 88.3 L1525.3 88.3 L1525.3 88.2 L1528.3 88.2 L1528.3 88.2 L1529.7 88.2 L1529.7 88.2 L1531.4 88.2 L1531.4 88.2 L1535.0 88.2 L1535.0 88.2 L1537.0 88.2 L1537.0 88.2 L1539.9 88.2 L1539.9 88.2 L1541.2 88.2 L1541.2 88.2 L1544.2 88.2 L1544.2 88.2 L1546.3 88.2 L1546.3 88.2 L1547.6 88.2 L1547.6 88.1 L1548.9 88.1 L1548.9 88.1 L1550.8 88.1 L1550.8 88.1 L1553.5 88.1 L1553.5 88.1 L1557.0 88.1 L1557.0 88.1 L1558.3 88.1 L1558.3 88.1 L1561.0 88.1 L1561.0 88.1 L1563.3 88.1 L1563.3 88.1 L1566.3 88.1 L1566.3 88.0 L1569.6 88.0 L1569.6 88.0 L1571.0 88.0 L1571.0 88.0 L1573.0 88.0 L1573.0 88.0 L1576.8 88.0 L1576.8 88.0 L1580.0 88.0 L1580.0 88.0 L1580.0 85.7 L1600.0 85.7"/>
<path stroke="#00C0C6" d="M408.0 1058.4 L420.0 1058.4 L420.0 1057.6 L421.2 1057.6 L421.2 1057.4 L423.3 1057.4 L423.3 1057.0 L426.6 1057.0 L426.6 1056.9 L429.1 1056.9 L429.1 1056.6 L432.5 1056.6 L432.5 1056.5 L434.4 1056.5 L434.4 1056.3 L437.6 1056.3 L437.6 1056.2 L439.2 1056.2 L439.2 1056.0 L442.2 1056.0 L442.2 1055.8 L445.7 1055.8 L445.7 1055.6 L447.1 1055.6 L447.1 1055.5 L449.1 1055.5 L449.1 1055.3 L451.2 1055.3 L451.2 1055.3 L455.0 1055.3 L455.0 1055.2 L456.3 1055.2 L456.3 1054.9 L458.7 1054.9 L458.7 1054.6 L462.8 1054.6 L462.8 1054.4 L464.2 1054.4 L464.2 1054.3 L468.2 1054.3 L468.2 1054.0 L469.6 1054.0 L469.6 1053.9 L472.3 1053.9 L472.3 1053.6 L474.8 1053.6 L474.8 1053.4 L478.0 1053.4 L478.0 1053.1 L480.0 1053.1 L480.0 1053.0 L482.2 1053.0 L482.2 1052.8 L483.5 1052.8 L483.5 1052.1 L487.4 1052.1 L487.4 1051.3 L490.4 1051.3 L490.4 1051.1 L492.5 1051.1 L492.5 1050.4 L494.2 1050.4 L494.2 1049.7 L497.9 1049.7 L497.9 1049.0 L500.1 1049.0 L500.1 1048.2 L501.7 1048.2 L501.7 1047.7 L504.2 1047.7 L504.2 1047.1 L506.5 1047.1 L506.5 1046.5 L510.0 1046.5 L510.0 1046.0 L511.5 1046.0 L511.5 1045.1 L514.1 1045.1 L514.1 1043.8 L516.6 1043.8 L516.6 1043.1 L518.7 1043.1 L518.7 1041.8 L521.8 1041.8 L521.8 1040.6 L525.3 1040.6 L525.3 1039.4 L527.8 1039.4 L527.8 1038.4 L530.0 1038.4 L530.0 1038.0 L532.5 1038.0 L532.5 1037.4 L535.4 1037.4 L535.4 1036.6 L538.0 1036.6 L538.0 1035.7 L540.9 1035.7 L540.9 1034.8 L542.2 1034.8 L542.2 1033.1 L544.2 1033.1 L544.2 1031.9 L546.8 1031.9 L546.8 1029.7 L550.0 1029.7 L550.0 1028.0 L552.7 1028.0 L552.7 1026.3 L555.9 1026.3 L555.9 1024.4 L558.9 1024.4 L558.9 1022.2 L560.0 1022.2 L560.0 1021.4 L562.0 1021.4 L562.0 1020.0 L566.2 1020.0 L566.2 1018.9 L568.1 1018.9 L568.1 1016.2 L569.5 1016.2 L569.5 1012.5 L572.1 1012.5 L572.1 1008.7 L574.0 1008.7 L574.0 1004.0 L576.3 1004.0 L576.3 1000.8 L578.7 1000.8 L578.7 999.7 L583.1 999.7 L583.1 996.2 L584.7 996.2 L584.7 994.6 L588.1 994.6 L588.1 990.8 L590.0 990.8 L590.0 988.0 L593.3 988.0 L593.3 985.9 L595.0 985.9 L595.0 983.0 L598.0 983.0 L598.0 979.7 L601.0 979.7 L601.0 976.8 L603.3 976.8 L603.3 974.9 L606.0 974.9 L606.0 974.0 L609.0 974.0 L609.0 972.5 L612.9 972.5 L612.9 968.9 L614.7 968.9 L614.7 966.9 L616.3 966.9 L616.3 961.4 L618.0 961.4 L618.0 956.0 L621.1 956.0 L621.1 950.9 L623.4 950.9 L623.4 949.0 L625.4 949.0 L625.4 944.0 L628.0 944.0 L628.0 938.9 L630.0 938.9 L630.0 936.0 L631.4 936.0 L631.4 930.7 L633.5 930.7 L633.5 927.6 L636.6 927.6 L636.6 924.5 L640.0 924.5 L640.0 918.0 L642.4 918.0 L642.4 906.2 L646.0 906.2 L646.0 900.0 L649.0 900.0 L649.0 896.0 L650.4 896.0 L650.4 891.7 L653.5 891.7 L653.5 885.8 L656.0 885.8 L656.0 880.0 L658.3 880.0 L658.3 877.1 L661.9 877.1 L661.9 872.8 L664.0 872.8 L664.0 870.0 L667.3 870.0 L667.3 865.0 L669.2 865.0 L669.2 859.6 L671.3 859.6 L671.3 856.8 L673.8 856.8 L673.8 851.1 L676.0 851.1 L676.0 848.0 L678.6 848.0 L678.6 845.6 L681.0 845.6 L681.0 839.4 L682.9 839.4 L682.9 836.3 L685.4 836.3 L685.4 834.7 L688.0 834.7 L688.0 828.0 L691.8 828.0 L691.8 826.1 L694.8 826.1 L694.8 817.7 L696.0 817.7 L696.0 810.0 L698.7 810.0 L698.7 800.8 L701.7 800.8 L701.7 795.6 L704.0 795.6 L704.0 790.0 L706.4 790.0 L706.4 784.7 L708.0 784.7 L708.0 778.0 L710.3 778.0 L710.3 775.2 L713.8 775.2 L713.8 770.9 L716.9 770.9 L716.9 766.7 L718.7 766.7 L718.7 764.7 L720.0 764.7 L720.0 760.0 L722.9 760.0 L722.9 753.7 L726.0 753.7 L726.0 736.0 L728.0 736.0 L728.0 728.0 L731.2 728.0 L731.2 724.2 L733.0 724.2 L733.0 721.4 L736.0 721.4 L736.0 719.8 L737.2 719.8 L737.2 716.6 L739.4 716.6 L739.4 712.1 L742.0 712.1 L742.0 710.0 L744.2 710.0 L744.2 704.9 L747.1 704.9 L747.1 701.8 L749.1 701.8 L749.1 696.2 L752.0 696.2 L752.0 694.0 L753.5 694.0 L753.5 692.5 L756.0 692.5 L756.0 689.2 L758.3 689.2 L758.3 684.5 L762.0 684.5 L762.0 680.0 L765.1 680.0 L765.1 666.9 L768.0 666.9 L768.0 662.0 L770.6 662.0 L770.6 656.8 L772.0 656.8 L772.0 655.4 L775.3 655.4 L775.3 652.1 L778.0 652.1 L778.0 650.0 L780.4 650.0 L780.4 644.7 L784.2 644.7 L784.2 635.4 L786.0 635.4 L786.0 628.0 L789.2 628.0 L789.2 615.0 L792.2 615.0 L792.2 609.4 L794.0 609.4 L794.0 606.0 L795.5 606.0 L795.5 601.5 L798.2 601.5 L798.2 597.9 L801.3 597.9 L801.3 593.6 L804.3 593.6 L804.3 592.1 L805.9 592.1 L805.9 587.7 L808.0 587.7 L808.0 586.0 L809.5 586.0 L809.5 579.0 L812.5 579.0 L812.5 573.3 L816.0 573.3 L816.0 570.0 L818.8 570.0 L818.8 566.3 L821.3 566.3 L821.3 562.6 L822.5 562.6 L822.5 560.2 L824.4 560.2 L824.4 558.5 L826.7 558.5 L826.7 555.1 L830.0 555.1 L830.0 552.0 L833.2 552.0 L833.2 544.4 L834.7 544.4 L834.7 536.2 L838.0 536.2 L838.0 532.0 L841.6 532.0 L841.6 526.7 L843.1 526.7 L843.1 522.0 L846.0 522.0 L846.0 520.0 L848.6 520.0 L848.6 516.2 L851.0 516.2 L851.0 514.8 L853.7 514.8 L853.7 513.5 L856.0 513.5 L856.0 512.0 L859.6 512.0 L859.6 502.7 L862.0 502.7 L862.0 494.0 L864.9 494.0 L864.9 491.4 L867.5 491.4 L867.5 488.5 L869.6 488.5 L869.6 483.5 L872.0 483.5 L872.0 482.0 L874.6 482.0 L874.6 478.9 L878.0 478.9 L878.0 476.4 L879.8 476.4 L879.8 471.5 L882.6 471.5 L882.6 468.3 L884.4 468.3 L884.4 465.7 L888.0 465.7 L888.0 464.0 L889.5 464.0 L889.5 457.3 L891.5 457.3 L891.5 453.0 L892.7 453.0 L892.7 449.4 L896.3 449.4 L896.3 446.2 L900.0 446.2 L900.0 444.0 L902.0 444.0 L902.0 438.9 L904.0 438.9 L904.0 436.0 L906.8 436.0 L906.8 434.0 L909.4 434.0 L909.4 432.2 L911.1 432.2 L911.1 430.8 L914.0 430.8 L914.0 430.0 L917.0 430.0 L917.0 426.8 L918.8 426.8 L918.8 419.1 L922.2 419.1 L922.2 415.8 L924.0 415.8 L924.0 412.0 L926.5 412.0 L926.5 407.8 L928.3 407.8 L928.3 405.1 L930.1 405.1 L930.1 403.0 L933.1 403.0 L933.1 400.2 L936.0 400.2 L936.0 398.0 L939.5 398.0 L939.5 395.0 L941.2 395.0 L941.2 391.7 L944.3 391.7 L944.3 389.3 L947.3 389.3 L947.3 388.1 L949.0 388.1 L949.0 385.8 L952.0 385.8 L952.0 382.0 L955.7 382.0 L955.7 378.9 L957.8 378.9 L957.8 376.4 L960.8 376.4 L960.8 374.9 L962.0 374.9 L962.0 372.6 L965.2 372.6 L965.2 369.3 L968.0 369.3 L968.0 366.0 L969.4 366.0 L969.4 361.6 L972.0 361.6 L972.0 354.0 L974.2 354.0 L974.2 350.1 L976.1 350.1 L976.1 347.8 L980.0 347.8 L980.0 346.0 L982.8 346.0 L982.8 344.7 L985.5 344.7 L985.5 344.0 L987.9 344.0 L987.9 342.1 L990.9 342.1 L990.9 341.7 L992.0 341.7 L992.0 340.0 L996.4 340.0 L996.4 334.0 L998.0 334.0 L998.0 330.0 L1001.1 330.0 L1001.1 327.9 L1003.1 327.9 L1003.1 327.0 L1006.4 327.0 L1006.4 325.4 L1008.1 325.4 L1008.1 324.5 L1009.5 324.5 L1009.5 323.5 L1012.0 323.5 L1012.0 322.0 L1015.2 322.0 L1015.2 321.0 L1017.6 321.0 L1017.6 319.3 L1021.2 319.3 L1021.2 316.3 L1024.1 316.3 L1024.1 313.9 L1025.2 313.9 L1025.2 310.4 L1028.0 310.4 L1028.0 308.0 L1031.4 308.0 L1031.4 307.0 L1034.1 307.0 L1034.1 305.6 L1036.8 305.6 L1036.8 304.4 L1039.7 304.4 L1039.7 303.3 L1042.2 303.3 L1042.2 300.8 L1044.8 300.8 L1044.8 299.0 L1046.0 299.0 L1046.0 298.0 L1049.6 298.0 L1049.6 296.2 L1051.5 296.2 L1051.5 295.5 L1053.9 295.5 L1053.9 294.6 L1055.9 294.6 L1055.9 293.9 L1059.5 293.9 L1059.5 292.4 L1062.6 292.4 L1062.6 290.9 L1064.0 290.9 L1064.0 290.0 L1067.4 290.0 L1067.4 287.4 L1069.4 287.4 L1069.4 284.2 L1070.8 284.2 L1070.8 281.5 L1073.7 281.5 L1073.7 279.0 L1076.0 279.0 L1076.0 278.0 L1079.6 278.0 L1079.6 277.3 L1082.4 277.3 L1082.4 276.5 L1085.8 276.5 L1085.8 276.0 L1087.2 276.0 L1087.2 275.1 L1089.8 275.1 L1089.8 274.3 L1092.0 274.3 L1092.0 274.0 L1095.4 274.0 L1095.4 270.9 L1098.2 270.9 L1098.2 270.2 L1100.0 270.2 L1100.0 268.0 L1103.2 268.0 L1103.2 263.1 L1106.0 263.1 L1106.0 260.0 L1110.5 260.0 L1110.5 254.2 L1112.0 254.2 L1112.0 252.0 L1114.2 252.0 L1114.2 250.9 L1117.2 250.9 L1117.2 250.6 L1119.1 250.6 L1119.1 249.9 L1121.7 249.9 L1121.7 249.0 L1124.0 249.0 L1124.0 248.0 L1127.4 248.0 L1127.4 245.7 L1128.9 245.7 L1128.9 244.3 L1131.3 244.3 L1131.3 243.7 L1133.9 243.7 L1133.9 241.9 L1136.0 241.9 L1136.0 240.0 L1138.8 240.0 L1138.8 239.2 L1141.0 239.2 L1141.0 239.0 L1143.2 239.0 L1143.2 238.3 L1146.4 238.3 L1146.4 237.5 L1149.2 237.5 L1149.2 236.9 L1152.0 236.9 L1152.0 236.0 L1154.0 236.0 L1154.0 232.8 L1157.0 232.8 L1157.0 230.3 L1160.0 230.3 L1160.0 228.0 L1163.2 228.0 L1163.2 227.6 L1164.8 227.6 L1164.8 227.3 L1166.5 227.3 L1166.5 226.6 L1167.9 226.6 L1167.9 226.1 L1171.0 226.1 L1171.0 225.7 L1174.0 225.7 L1174.0 225.0 L1177.2 225.0 L1177.2 223.1 L1178.9 223.1 L1178.9 221.4 L1181.5 221.4 L1181.5 219.4 L1184.1 219.4 L1184.1 216.9 L1186.0 216.9 L1186.0 216.0 L1188.0 216.0 L1188.0 215.3 L1191.0 215.3 L1191.0 212.4 L1194.2 212.4 L1194.2 211.6 L1197.4 211.6 L1197.4 208.8 L1198.7 208.8 L1198.7 207.8 L1202.1 207.8 L1202.1 206.7 L1204.0 206.7 L1204.0 204.0 L1207.2 204.0 L1207.2 202.9 L1211.0 202.9 L1211.0 202.1 L1212.3 202.1 L1212.3 200.9 L1215.4 200.9 L1215.4 199.6 L1217.7 199.6 L1217.7 198.7 L1219.7 198.7 L1219.7 198.4 L1222.0 198.4 L1222.0 198.0 L1224.4 198.0 L1224.4 197.1 L1227.5 197.1 L1227.5 196.0 L1231.0 196.0 L1231.0 195.6 L1233.8 195.6 L1233.8 194.8 L1234.9 194.8 L1234.9 194.0 L1238.1 194.0 L1238.1 193.2 L1240.7 193.2 L1240.7 192.7 L1242.0 192.7 L1242.0 192.0 L1245.7 192.0 L1245.7 189.7 L1248.4 189.7 L1248.4 186.9 L1250.0 186.9 L1250.0 186.0 L1253.9 186.0 L1253.9 185.0 L1256.6 185.0 L1256.6 184.1 L1258.6 184.1 L1258.6 183.5 L1260.5 183.5 L1260.5 182.4 L1262.0 182.4 L1262.0 182.0 L1263.2 182.0 L1263.2 179.4 L1266.7 179.4 L1266.7 175.9 L1270.0 175.9 L1270.0 174.0 L1272.3 174.0 L1272.3 171.6 L1274.5 171.6 L1274.5 170.3 L1277.0 170.3 L1277.0 168.8 L1280.0 168.8 L1280.0 168.0 L1282.8 168.0 L1282.8 165.5 L1285.0 165.5 L1285.0 161.6 L1288.0 161.6 L1288.0 160.0 L1290.0 160.0 L1290.0 158.0 L1293.1 158.0 L1293.1 157.7 L1296.4 157.7 L1296.4 156.9 L1298.1 156.9 L1298.1 156.1 L1300.7 156.1 L1300.7 155.6 L1303.4 155.6 L1303.4 155.0 L1306.0 155.0 L1306.0 154.0 L1309.5 154.0 L1309.5 151.8 L1310.7 151.8 L1310.7 151.3 L1312.9 151.3 L1312.9 149.2 L1314.8 149.2 L1314.8 148.4 L1318.7 148.4 L1318.7 147.5 L1322.0 147.5 L1322.0 146.0 L1324.4 146.0 L1324.4 144.5 L1325.9 144.5 L1325.9 143.2 L1328.9 143.2 L1328.9 141.9 L1331.5 141.9 L1331.5 141.2 L1334.7 141.2 L1334.7 138.7 L1336.0 138.7 L1336.0 138.0 L1337.3 138.0 L1337.3 136.0 L1338.6 136.0 L1338.6 133.6 L1342.1 133.6 L1342.1 130.4 L1345.9 130.4 L1345.9 126.4 L1348.0 126.4 L1348.0 124.0 L1350.1 124.0 L1350.1 122.6 L1352.3 122.6 L1352.3 121.8 L1354.8 121.8 L1354.8 121.4 L1357.3 121.4 L1357.3 120.8 L1359.5 120.8 L1359.5 119.2 L1362.0 119.2 L1362.0 118.0 L1365.8 118.0 L1365.8 116.7 L1367.3 116.7 L1367.3 115.6 L1371.0 115.6 L1371.0 114.1 L1373.2 114.1 L1373.2 113.8 L1375.4 113.8 L1375.4 113.0 L1378.0 113.0 L1378.0 112.0 L1380.6 112.0 L1380.6 111.1 L1383.1 111.1 L1383.1 110.3 L1387.0 110.3 L1387.0 109.8 L1389.9 109.8 L1389.9 108.2 L1391.6 108.2 L1391.6 106.8 L1394.0 106.8 L1394.0 105.0 L1396.3 105.0 L1396.3 103.3 L1398.3 103.3 L1398.3 102.2 L1401.1 102.2 L1401.1 101.6 L1403.3 101.6 L1403.3 100.7 L1406.0 100.7 L1406.0 99.0 L1408.6 99.0 L1408.6 98.7 L1411.1 98.7 L1411.1 98.3 L1413.1 98.3 L1413.1 97.9 L1416.7 97.9 L1416.7 97.4 L1418.0 97.4 L1418.0 96.8 L1422.0 96.8 L1422.0 96.0 L1424.5 96.0 L1424.5 95.0 L1427.6 95.0 L1427.6 94.4 L1428.9 94.4 L1428.9 93.8 L1431.8 93.8 L1431.8 93.5 L1434.6 93.5 L1434.6 92.9 L1436.0 92.9 L1436.0 92.0 L1439.0 92.0 L1439.0 91.5 L1440.3 91.5 L1440.3 91.0 L1442.2 91.0 L1442.2 90.6 L1445.8 90.6 L1445.8 90.5 L1447.2 90.5 L1447.2 90.2 L1450.0 90.2 L1450.0 90.0 L1452.2 90.0 L1452.2 89.8 L1455.8 89.8 L1455.8 89.5 L1458.3 89.5 L1458.3 89.1 L1459.7 89.1 L1459.7 88.7 L1461.2 88.7 L1461.2 88.3 L1464.0 88.3 L1464.0 88.1 L1466.8 88.1 L1466.8 87.9 L1470.0 87.9 L1470.0 87.5 L1471.6 87.5 L1471.6 87.5 L1475.4 87.5 L1475.4 87.4 L1478.9 87.4 L1478.9 87.4 L1480.9 87.4 L1480.9 87.3 L1482.1 87.3 L1482.1 87.3 L1484.8 87.3 L1484.8 87.3 L1486.5 87.3 L1486.5 87.2 L1488.2 87.2 L1488.2 87.2 L1490.5 87.2 L1490.5 87.2 L1492.8 87.2 L1492.8 87.2 L1496.1 87.2 L1496.1 87.1 L1499.3 87.1 L1499.3 87.1 L1502.8 87.1 L1502.8 87.0 L1506.2 87.0 L1506.2 87.0 L1508.5 87.0 L1508.5 87.0 L1510.7 87.0 L1510.7 86.9 L1512.9 86.9 L1512.9 86.9 L1515.6 86.9 L1515.6 86.9 L1518.1 86.9 L1518.1 86.9 L1520.9 86.9 L1520.9 86.8 L1524.7 86.8 L1524.7 86.8 L1526.9 86.8 L1526.9 86.8 L1529.7 86.8 L1529.7 86.7 L1531.4 86.7 L1531.4 86.7 L1534.2 86.7 L1534.2 86.7 L1537.0 86.7 L1537.0 86.7 L1540.1 86.7 L1540.1 86.6 L1542.6 86.6 L1542.6 86.6 L1544.2 86.6 L1544.2 86.6 L1546.3 86.6 L1546.3 86.5 L1548.3 86.5 L1548.3 86.5 L1550.0 86.5 L1550.0 86.5 L1550.0 85.7 L1600.0 85.7"/>
<path stroke="#329DFF" d="M428.0 1058.4 L440.0 1058.4 L440.0 1057.6 L443.3 1057.6 L443.3 1057.4 L446.5 1057.4 L446.5 1057.3 L450.7 1057.3 L450.7 1057.2 L454.8 1057.2 L454.8 1057.1 L458.6 1057.1 L458.6 1056.9 L461.9 1056.9 L461.9 1056.8 L464.1 1056.8 L464.1 1056.6 L467.0 1056.6 L467.0 1056.6 L471.3 1056.6 L471.3 1056.4 L475.3 1056.4 L475.3 1056.3 L479.2 1056.3 L479.2 1056.2 L483.6 1056.2 L483.6 1056.1 L487.8 1056.1 L487.8 1056.0 L490.0 1056.0 L490.0 1056.0 L492.7 1056.0 L492.7 1055.3 L498.0 1055.3 L498.0 1052.0 L501.9 1052.0 L501.9 1051.4 L504.5 1051.4 L504.5 1050.4 L508.3 1050.4 L508.3 1049.9 L512.2 1049.9 L512.2 1049.1 L514.5 1049.1 L514.5 1047.3 L518.0 1047.3 L518.0 1046.0 L520.6 1046.0 L520.6 1044.8 L522.3 1044.8 L522.3 1044.2 L526.8 1044.2 L526.8 1043.8 L531.5 1043.8 L531.5 1042.9 L536.4 1042.9 L536.4 1042.3 L538.0 1042.3 L538.0 1041.0 L541.5 1041.0 L541.5 1038.2 L546.4 1038.2 L546.4 1036.1 L550.0 1036.1 L550.0 1034.0 L554.3 1034.0 L554.3 1031.8 L557.6 1031.8 L557.6 1030.0 L560.6 1030.0 L560.6 1028.2 L564.7 1028.2 L564.7 1026.7 L568.0 1026.7 L568.0 1026.0 L571.5 1026.0 L571.5 1021.5 L576.0 1021.5 L576.0 1016.0 L578.6 1016.0 L578.6 1014.0 L583.7 1014.0 L583.7 1011.7 L586.0 1011.7 L586.0 1008.0 L588.2 1008.0 L588.2 1005.5 L592.3 1005.5 L592.3 1003.9 L595.5 1003.9 L595.5 1001.8 L600.0 1001.8 L600.0 1000.0 L604.1 1000.0 L604.1 999.1 L608.7 999.1 L608.7 998.1 L612.0 998.1 L612.0 997.0 L616.1 997.0 L616.1 993.9 L620.2 993.9 L620.2 992.1 L623.0 992.1 L623.0 990.8 L626.0 990.8 L626.0 986.0 L631.4 986.0 L631.4 984.9 L635.1 984.9 L635.1 981.8 L638.0 981.8 L638.0 978.0 L642.0 978.0 L642.0 964.0 L646.4 964.0 L646.4 961.5 L651.7 961.5 L651.7 957.3 L654.0 957.3 L654.0 952.0 L658.0 952.0 L658.0 942.0 L662.3 942.0 L662.3 941.5 L666.9 941.5 L666.9 941.1 L670.0 941.1 L670.0 940.0 L672.8 940.0 L672.8 934.2 L676.0 934.2 L676.0 920.0 L680.0 920.0 L680.0 908.0 L683.9 908.0 L683.9 904.6 L685.7 904.6 L685.7 901.1 L690.0 901.1 L690.0 900.0 L693.9 900.0 L693.9 891.6 L697.0 891.6 L697.0 886.4 L699.6 886.4 L699.6 880.0 L702.0 880.0 L702.0 870.0 L704.7 870.0 L704.7 864.1 L708.8 864.1 L708.8 858.7 L714.0 858.7 L714.0 848.0 L717.5 848.0 L717.5 844.5 L722.2 844.5 L722.2 840.2 L726.0 840.2 L726.0 832.0 L729.5 832.0 L729.5 824.9 L734.0 824.9 L734.0 814.0 L738.0 814.0 L738.0 802.0 L740.7 802.0 L740.7 793.8 L744.6 793.8 L744.6 785.6 L748.0 785.6 L748.0 780.0 L752.0 780.0 L752.0 774.0 L755.5 774.0 L755.5 771.3 L760.4 771.3 L760.4 769.6 L763.0 769.6 L763.0 766.0 L767.5 766.0 L767.5 759.8 L770.0 759.8 L770.0 756.0 L774.0 756.0 L774.0 742.0 L777.5 742.0 L777.5 738.8 L782.0 738.8 L782.0 732.1 L784.0 732.1 L784.0 730.0 L788.8 730.0 L788.8 726.2 L793.0 726.2 L793.0 722.8 L795.6 722.8 L795.6 720.4 L798.0 720.4 L798.0 716.0 L800.0 716.0 L800.0 696.0 L804.0 696.0 L804.0 690.0 L809.1 690.0 L809.1 685.0 L812.0 685.0 L812.0 680.0 L814.0 680.0 L814.0 668.0 L818.8 668.0 L818.8 658.7 L820.9 658.7 L820.9 653.9 L826.0 653.9 L826.0 652.0 L829.1 652.0 L829.1 646.1 L832.0 646.1 L832.0 638.0 L835.3 638.0 L835.3 634.3 L839.4 634.3 L839.4 630.5 L844.0 630.5 L844.0 620.0 L847.6 620.0 L847.6 614.0 L850.8 614.0 L850.8 608.0 L854.0 608.0 L854.0 604.0 L856.5 604.0 L856.5 596.1 L860.0 596.1 L860.0 590.0 L863.6 590.0 L863.6 588.8 L868.5 588.8 L868.5 587.2 L872.0 587.2 L872.0 582.0 L877.1 582.0 L877.1 573.9 L880.0 573.9 L880.0 568.0 L882.0 568.0 L882.0 560.0 L885.9 560.0 L885.9 555.9 L890.3 555.9 L890.3 553.0 L892.0 553.0 L892.0 552.0 L894.0 552.0 L894.0 540.0 L896.7 540.0 L896.7 537.1 L902.0 537.1 L902.0 534.0 L906.7 534.0 L906.7 530.8 L911.4 530.8 L911.4 522.7 L914.0 522.7 L914.0 514.0 L917.2 514.0 L917.2 509.7 L921.0 509.7 L921.0 508.9 L926.9 508.9 L926.9 507.3 L929.6 507.3 L929.6 506.5 L932.0 506.5 L932.0 504.0 L937.1 504.0 L937.1 501.4 L940.0 501.4 L940.0 496.0 L943.1 496.0 L943.1 486.8 L948.0 486.8 L948.0 480.0 L952.3 480.0 L952.3 479.4 L954.6 479.4 L954.6 478.0 L958.0 478.0 L958.0 476.1 L959.5 476.1 L959.5 475.4 L964.0 475.4 L964.0 474.0 L966.1 474.0 L966.1 469.1 L972.0 469.1 L972.0 464.0 L974.0 464.0 L974.0 460.5 L977.5 460.5 L977.5 458.7 L981.9 458.7 L981.9 453.9 L984.9 453.9 L984.9 450.1 L990.0 450.1 L990.0 448.0 L993.2 448.0 L993.2 445.8 L997.6 445.8 L997.6 442.9 L1002.0 442.9 L1002.0 442.0 L1005.3 442.0 L1005.3 436.1 L1008.0 436.1 L1008.0 430.0 L1012.6 430.0 L1012.6 422.9 L1016.9 422.9 L1016.9 416.5 L1020.0 416.5 L1020.0 413.0 L1026.0 413.0 L1026.0 412.2 L1028.6 412.2 L1028.6 411.3 L1032.0 411.3 L1032.0 411.0 L1034.0 411.0 L1034.0 402.0 L1038.9 402.0 L1038.9 398.1 L1040.8 398.1 L1040.8 394.3 L1046.0 394.3 L1046.0 386.0 L1049.1 386.0 L1049.1 382.4 L1051.5 382.4 L1051.5 379.1 L1054.4 379.1 L1054.4 375.5 L1060.0 375.5 L1060.0 374.0 L1062.0 374.0 L1062.0 366.0 L1064.1 366.0 L1064.1 363.2 L1067.2 363.2 L1067.2 361.3 L1074.0 361.3 L1074.0 358.0 L1077.0 358.0 L1077.0 356.6 L1078.7 356.6 L1078.7 354.2 L1083.9 354.2 L1083.9 352.9 L1086.7 352.9 L1086.7 351.6 L1090.0 351.6 L1090.0 350.0 L1094.1 350.0 L1094.1 348.5 L1098.0 348.5 L1098.0 342.0 L1100.0 342.0 L1100.0 339.0 L1102.3 339.0 L1102.3 336.8 L1105.8 336.8 L1105.8 335.6 L1110.0 335.6 L1110.0 334.0 L1113.8 334.0 L1113.8 331.3 L1117.0 331.3 L1117.0 327.5 L1120.0 327.5 L1120.0 324.0 L1122.9 324.0 L1122.9 321.9 L1128.0 321.9 L1128.0 320.0 L1132.0 320.0 L1132.0 308.0 L1133.9 308.0 L1133.9 305.4 L1137.4 305.4 L1137.4 300.7 L1142.0 300.7 L1142.0 298.0 L1143.8 298.0 L1143.8 297.2 L1149.0 297.2 L1149.0 295.4 L1153.5 295.4 L1153.5 294.4 L1158.2 294.4 L1158.2 293.1 L1162.2 293.1 L1162.2 291.4 L1164.0 291.4 L1164.0 290.0 L1168.0 290.0 L1168.0 280.0 L1174.1 280.0 L1174.1 278.7 L1177.6 278.7 L1177.6 277.1 L1180.0 277.1 L1180.0 276.0 L1184.0 276.0 L1184.0 269.0 L1186.3 269.0 L1186.3 267.9 L1191.2 267.9 L1191.2 266.3 L1195.1 266.3 L1195.1 264.1 L1200.2 264.1 L1200.2 261.9 L1204.0 261.9 L1204.0 259.6 L1206.2 259.6 L1206.2 257.5 L1208.0 257.5 L1208.0 256.0 L1212.6 256.0 L1212.6 254.2 L1216.0 254.2 L1216.0 246.0 L1221.4 246.0 L1221.4 244.4 L1224.9 244.4 L1224.9 243.3 L1227.7 243.3 L1227.7 240.7 L1230.0 240.7 L1230.0 240.0 L1233.0 240.0 L1233.0 235.9 L1236.0 235.9 L1236.0 234.0 L1240.8 234.0 L1240.8 231.7 L1244.0 231.7 L1244.0 230.0 L1248.0 230.0 L1248.0 224.0 L1249.6 224.0 L1249.6 222.1 L1252.9 222.1 L1252.9 220.0 L1257.5 220.0 L1257.5 217.9 L1259.4 217.9 L1259.4 217.4 L1264.0 217.4 L1264.0 216.0 L1268.2 216.0 L1268.2 213.3 L1272.0 213.3 L1272.0 211.4 L1276.0 211.4 L1276.0 208.0 L1277.8 208.0 L1277.8 206.3 L1281.9 206.3 L1281.9 204.3 L1286.0 204.3 L1286.0 202.0 L1288.0 202.0 L1288.0 196.0 L1292.4 196.0 L1292.4 188.7 L1295.0 188.7 L1295.0 182.0 L1298.0 182.0 L1298.0 180.0 L1302.2 180.0 L1302.2 179.2 L1305.5 179.2 L1305.5 178.4 L1310.0 178.4 L1310.0 177.0 L1314.2 177.0 L1314.2 175.2 L1319.1 175.2 L1319.1 172.8 L1322.0 172.8 L1322.0 170.0 L1325.0 170.0 L1325.0 166.7 L1329.2 166.7 L1329.2 163.0 L1332.0 163.0 L1332.0 158.0 L1336.2 158.0 L1336.2 157.2 L1340.0 157.2 L1340.0 155.0 L1344.4 155.0 L1344.4 152.2 L1348.0 152.2 L1348.0 148.0 L1352.1 148.0 L1352.1 147.5 L1356.0 147.5 L1356.0 146.0 L1360.8 146.0 L1360.8 140.7 L1364.0 140.7 L1364.0 138.0 L1366.9 138.0 L1366.9 137.5 L1371.1 137.5 L1371.1 136.4 L1374.0 136.4 L1374.0 136.0 L1376.0 136.0 L1376.0 132.5 L1380.0 132.5 L1380.0 131.0 L1383.3 131.0 L1383.3 129.3 L1385.0 129.3 L1385.0 128.9 L1390.0 128.9 L1390.0 128.0 L1392.5 128.0 L1392.5 125.7 L1396.5 125.7 L1396.5 122.4 L1400.0 122.4 L1400.0 120.0 L1403.6 120.0 L1403.6 119.0 L1407.7 119.0 L1407.7 117.8 L1410.0 117.8 L1410.0 117.0 L1415.2 117.0 L1415.2 114.2 L1418.0 114.2 L1418.0 110.0 L1420.7 110.0 L1420.7 109.4 L1426.0 109.4 L1426.0 108.0 L1432.1 108.0 L1432.1 105.9 L1434.0 105.9 L1434.0 105.0 L1437.4 105.0 L1437.4 104.8 L1440.9 104.8 L1440.9 104.6 L1442.8 104.6 L1442.8 104.5 L1445.3 104.5 L1445.3 104.2 L1450.0 104.2 L1450.0 104.0 L1455.0 104.0 L1455.0 101.9 L1458.0 101.9 L1458.0 101.0 L1461.0 101.0 L1461.0 100.1 L1464.8 100.1 L1464.8 99.4 L1470.0 99.4 L1470.0 99.0 L1472.6 99.0 L1472.6 98.6 L1476.4 98.6 L1476.4 98.2 L1480.7 98.2 L1480.7 97.7 L1485.0 97.7 L1485.0 97.4 L1487.6 97.4 L1487.6 97.3 L1490.0 97.3 L1490.0 97.0 L1520.0 96.6 L1549.0 96.4 L1550.0 96.4 L1550.0 90.0 L1567.0 89.7 L1568.0 89.7 L1568.0 86.6 L1640.0 86.2 L1640.0 85.7 L1600.0 85.7"/>
<path stroke="#FF64E7" d="M294.3 1058.4 L554.0 1058.4 L554.0 1058.4 L558.0 1053.0 L562.9 1053.0 L562.9 1049.9 L570.0 1049.9 L570.0 1047.0 L575.9 1047.0 L575.9 1041.0 L582.0 1041.0 L582.0 1037.0 L589.0 1037.0 L589.0 1035.6 L596.0 1035.6 L596.0 1032.0 L614.0 1031.0 L616.0 1020.0 L620.9 1020.0 L620.9 1016.5 L630.0 1016.5 L630.0 1015.0 L640.0 1015.0 L640.0 1006.0 L647.1 1006.0 L647.1 1001.8 L654.0 1001.8 L654.0 1000.0 L670.0 999.0 L674.0 988.0 L680.0 988.0 L680.0 972.0 L684.0 962.0 L688.6 960.0 L691.0 946.4 L697.0 942.0 L703.0 942.0 L703.0 934.4 L705.7 930.0 L714.3 929.3 L718.6 922.4 L720.3 914.7 L726.4 913.0 L728.0 908.7 L733.2 907.8 L735.0 903.5 L741.8 902.7 L743.5 898.0 L753.0 897.5 L753.8 888.0 L761.5 887.2 L762.8 876.0 L767.5 875.2 L768.8 871.3 L785.2 870.9 L786.9 848.6 L792.0 848.6 L792.0 828.0 L800.0 828.0 L800.0 818.0 L816.0 817.0 L822.8 817.0 L822.8 809.2 L828.0 809.2 L828.0 806.0 L830.0 788.0 L840.0 788.0 L840.0 782.0 L844.0 770.0 L850.0 766.0 L854.0 740.0 L862.0 740.0 L862.0 734.0 L864.0 722.0 L880.0 718.0 L885.0 718.0 L885.0 712.4 L892.0 710.7 L892.9 695.3 L897.6 694.4 L898.5 690.0 L908.3 689.3 L909.6 684.5 L912.2 679.0 L929.0 678.5 L930.6 668.7 L932.8 663.5 L943.0 663.0 L944.4 653.2 L948.7 652.4 L949.5 648.0 L955.5 647.2 L956.4 643.0 L963.3 642.0 L964.0 637.3 L968.8 637.0 L969.3 631.8 L978.7 631.0 L983.0 624.0 L986.0 611.2 L988.2 603.4 L990.0 594.0 L998.0 594.0 L998.0 582.0 L1008.0 582.0 L1008.0 574.0 L1014.0 574.0 L1014.0 567.0 L1028.0 566.0 L1033.0 566.0 L1033.0 545.0 L1040.0 545.0 L1040.0 535.0 L1072.0 534.0 L1076.0 522.0 L1084.0 518.0 L1088.0 508.0 L1100.0 507.0 L1104.0 497.0 L1120.0 496.0 L1126.0 496.0 L1126.0 490.0 L1128.0 482.0 L1134.0 479.0 L1138.0 464.0 L1148.0 464.0 L1148.0 456.0 L1150.0 444.0 L1158.0 442.0 L1164.0 442.0 L1164.0 433.0 L1176.0 432.0 L1180.0 426.0 L1183.0 406.0 L1190.0 402.0 L1194.0 380.0 L1197.0 374.0 L1208.0 373.0 L1214.0 373.0 L1214.0 366.0 L1220.0 366.0 L1220.0 358.0 L1223.0 348.0 L1226.4 348.0 L1226.4 344.7 L1236.0 344.7 L1236.0 342.0 L1240.0 326.0 L1247.0 324.0 L1249.0 310.0 L1255.0 310.0 L1255.0 304.0 L1260.1 304.0 L1260.1 301.0 L1266.0 301.0 L1266.0 298.0 L1272.0 298.0 L1272.0 286.0 L1280.0 286.0 L1280.0 278.0 L1288.0 278.0 L1288.0 268.0 L1302.0 267.0 L1304.0 256.0 L1307.0 240.0 L1312.0 240.0 L1312.0 235.0 L1321.0 234.0 L1323.0 224.0 L1330.0 224.0 L1330.0 214.0 L1332.0 206.0 L1338.0 202.0 L1360.0 201.0 L1362.0 197.0 L1372.0 196.0 L1375.0 182.0 L1380.0 180.0 L1382.0 172.0 L1394.0 170.0 L1396.0 160.0 L1410.0 159.0 L1412.0 155.0 L1420.0 154.0 L1424.0 146.0 L1430.0 146.0 L1430.0 138.0 L1436.0 138.0 L1436.0 130.0 L1440.0 121.0 L1446.0 117.5 L1462.0 116.5 L1466.0 111.6 L1471.0 109.6 L1473.0 101.6 L1495.6 100.6 L1497.6 96.6 L1517.5 95.6 L1519.5 90.7 L1557.0 89.7 L1559.0 85.7 L1695.0 85.7"/>
</g>
<g font-size="66px">
<text transform="translate(258.5 85.7) scale(1 1.04)" text-anchor="end">1.00</text>
<text transform="translate(258.5 328.9) scale(1 1.04)" text-anchor="end">0.75</text>
<text transform="translate(258.5 572.1) scale(1 1.04)" text-anchor="end">0.50</text>
<text transform="translate(258.5 815.2) scale(1 1.04)" text-anchor="end">0.25</text>
<text transform="translate(258.5 1058.4) scale(1 1.04)" text-anchor="end">0.00</text>
<text transform="translate(310.1 1190.1) scale(1 1.04)" text-anchor="middle">0.2</text>
<text transform="translate(657.8 1190.1) scale(1 1.04)" text-anchor="middle">0.4</text>
<text transform="translate(1005.4 1190.1) scale(1 1.04)" text-anchor="middle">0.6</text>
<text transform="translate(1353.1 1190.1) scale(1 1.04)" text-anchor="middle">0.8</text>
</g>
<g font-size="78px">
<text transform="translate(86.3 37.5) rotate(-90) scale(1 1.04)" text-anchor="end">ECDF</text>
<text transform="translate(1696 1303.5) scale(1 1.04)" text-anchor="end">Crown Ratio</text>
<text transform="translate(334 1554.0) scale(1 1.04)" textLength="804" lengthAdjust="spacing">Forest Vegetation Zone</text>
</g>
<g stroke-width="7.5" fill="none">
<line x1="1187.0" x2="1252.8" y1="1486.1" y2="1486.1" stroke="#FF776D"/>
<line x1="1187.0" x2="1252.8" y1="1566.5" y2="1566.5" stroke="#C1A000"/>
<line x1="1382.4" x2="1448.2" y1="1486.1" y2="1486.1" stroke="#00BB22"/>
<line x1="1382.4" x2="1448.2" y1="1566.5" y2="1566.5" stroke="#00C0C6"/>
<line x1="1577.8" x2="1643.6" y1="1486.1" y2="1486.1" stroke="#329DFF"/>
<line x1="1577.8" x2="1643.6" y1="1566.5" y2="1566.5" stroke="#FF64E7"/>
</g>
<g font-size="66px">
<text transform="translate(1298.4 1509.5) scale(1 1.04)">2</text>
<text transform="translate(1298.4 1590.0) scale(1 1.04)">3</text>
<text transform="translate(1493.5 1509.5) scale(1 1.04)">4</text>
<text transform="translate(1493.5 1590.0) scale(1 1.04)">5</text>
<text transform="translate(1689.5 1509.5) scale(1 1.04)">6</text>
<text transform="translate(1689.5 1590.0) scale(1 1.04)">7</text>
</g>
</svg></body></html>
